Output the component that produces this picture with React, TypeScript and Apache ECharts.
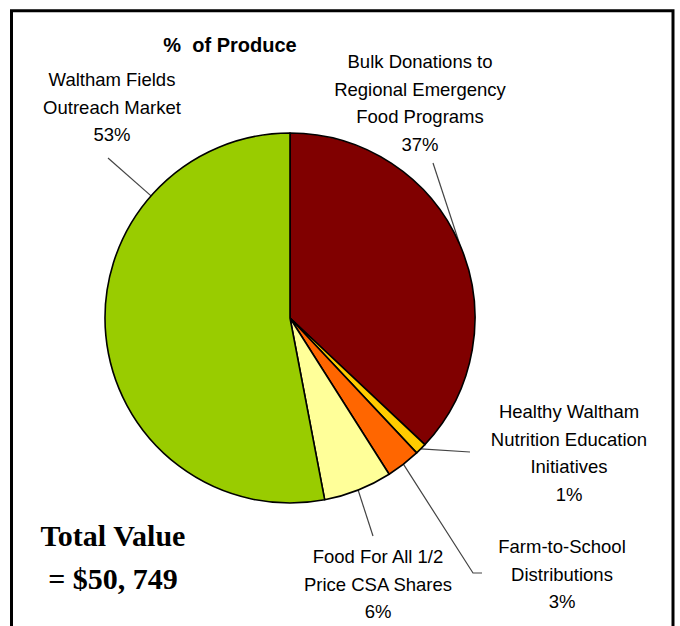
import React, { useEffect, useRef } from "react";
import * as echarts from "echarts";

const categories = [
  "Bulk Donations to\nRegional Emergency\nFood Programs",
  "Healthy Waltham\nNutrition Education\nInitiatives",
  "Farm-to-School\nDistributions",
  "Food For All 1/2\nPrice CSA Shares",
  "Waltham Fields\nOutreach Market",
];
const shares = [37, 1, 3, 6, 53];
const sliceColors = ["#800000", "#FFCC00", "#FF6600", "#FFFF99", "#99CC00"];

const titleText = "%  of Produce";
const totalLines = ["Total Value", "= $50, 749"];

// layout (label box anchor: center x, top y) and leader line end points
const labelPos = [
  { x: 420, y: 48 },
  { x: 569, y: 398 },
  { x: 562, y: 533 },
  { x: 378, y: 543 },
  { x: 112, y: 66 },
];
const leaderEnds: number[][][] = [
  [[433, 163]],
  [[470, 452]],
  [[473, 573], [482, 573]],
  [[373, 536]],
  [[108, 158]],
];
const useRadialAnchor = [false, false, false, false, true];
const CX = 290;
const CY = 318;
const R = 185;

export default function App() {
  const ref = useRef<HTMLDivElement>(null);
  useEffect(() => {
    if (!ref.current) return;
    const chart = echarts.init(ref.current, null, { renderer: "svg" });
    const option: any = {
      animation: false,
      backgroundColor: "#ffffff",
      title: {
        text: titleText,
        left: 225,
        top: 30,
        textAlign: "center",
        textStyle: {
          fontFamily: "Liberation Sans, Arial, sans-serif",
          fontSize: 20,
          fontWeight: "bold",
          color: "#000",
        },
      },
      graphic: [
        {
          type: "rect",
          shape: { x: 11.5, y: 10.75, width: 661.5, height: 660 },
          style: { fill: "none", stroke: "#000", lineWidth: 3 },
          silent: true,
        },
        {
          type: "text",
          x: 113,
          y: 535,
          style: {
            text: totalLines[0],
            fontFamily: "Liberation Serif, Times New Roman, serif",
            fontSize: 30,
            fontWeight: "bold",
            fill: "#000",
            align: "center",
            verticalAlign: "middle",
          },
        },
        {
          type: "text",
          x: 113,
          y: 578,
          style: {
            text: totalLines[1],
            fontFamily: "Liberation Serif, Times New Roman, serif",
            fontSize: 30,
            fontWeight: "bold",
            fill: "#000",
            align: "center",
            verticalAlign: "middle",
          },
        },
      ],
      series: [
        {
          type: "pie",
          center: [CX, CY],
          radius: R,
          startAngle: 90,
          clockwise: true,
          avoidLabelOverlap: false,
          data: categories.map((name, i) => ({
            name,
            value: shares[i],
            itemStyle: { color: sliceColors[i] },
          })),
          itemStyle: { borderColor: "#000", borderWidth: 1.6 },
          label: {
            show: true,
            position: "outside",
            formatter: "{b}\n{c}%",
            fontFamily: "Liberation Sans, Arial, sans-serif",
            fontSize: 18.5,
            lineHeight: 27.5,
            color: "#000",
            align: "center",
          },
          labelLine: {
            show: true,
            length: 10,
            length2: 10,
            lineStyle: { color: "#444", width: 1.2 },
          },
          emphasis: { disabled: true },
          labelLayout: (params: any) => {
            const i = params.dataIndex;
            const lp = labelPos[i];
            const ends = leaderEnds[i];
            let anchor: number[];
            if (useRadialAnchor[i] || !params.labelLinePoints) {
              const e = ends[0];
              const dx = e[0] - CX;
              const dy = e[1] - CY;
              const d = Math.sqrt(dx * dx + dy * dy);
              anchor = [CX + (R * dx) / d, CY + (R * dy) / d];
            } else {
              anchor = params.labelLinePoints[0];
            }
            const pts = [anchor, ...ends];
            return {
              x: lp.x,
              y: lp.y,
              align: "center",
              verticalAlign: "top",
              labelLinePoints: pts,
            };
          },
        },
      ],
    };
    chart.setOption(option);
    return () => chart.dispose();
  }, []);
  return (
    <div
      ref={ref}
      style={{ position: "fixed", left: 0, top: 0, width: 680, height: 626, background: "#fff" }}
    />
  );
}
